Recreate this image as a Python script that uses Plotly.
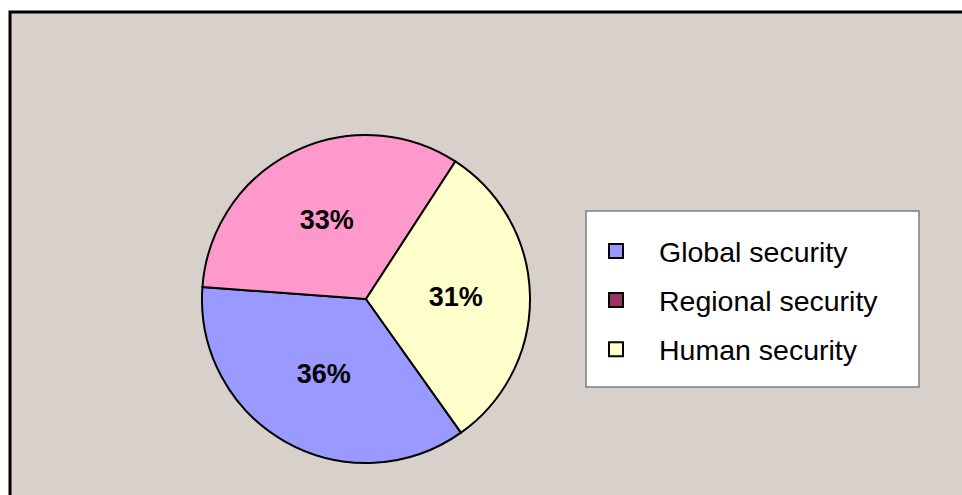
import plotly.graph_objects as go

categories = ["Global security", "Regional security", "Human security"]
values = [36, 33, 31]
slice_colors = ["#9999FF", "#FF99CC", "#FFFFCC"]
legend_colors = ["#9999FF", "#993366", "#FFFFCC"]

W, H = 962, 495
cx, cy, R = 366, 299, 164

fig = go.Figure()

fig.add_trace(go.Pie(
    labels=categories,
    values=values,
    sort=False,
    direction="clockwise",
    rotation=144.6,
    marker=dict(colors=slice_colors, line=dict(color="black", width=2)),
    texttemplate="<b>%{percent:.0%}</b>",
    textposition="inside",
    insidetextorientation="horizontal",
    textfont=dict(family="Liberation Sans, Arial", size=27, color="black"),
    showlegend=False,
    hoverinfo="label+percent",
    domain=dict(x=[(cx - R) / W, (cx + R) / W], y=[(H - cy - R) / H, (H - cy + R) / H]),
))

for name, col in zip(categories, legend_colors):
    fig.add_trace(go.Scatter(
        x=[None], y=[None], mode="markers", name=name, legendgroup=name,
        marker=dict(symbol="square", size=14, color=col, line=dict(color="black", width=2)),
    ))

fig.update_layout(
    width=W, height=H,
    margin=dict(l=0, r=0, t=0, b=0),
    paper_bgcolor="white",
    plot_bgcolor="rgba(0,0,0,0)",
    xaxis=dict(visible=False),
    yaxis=dict(visible=False),
    showlegend=True,
    legend=dict(
        x=573 / W, y=1 - 226 / H, xanchor="left", yanchor="top",
        bgcolor="rgba(0,0,0,0)", borderwidth=0,
        font=dict(family="Liberation Sans, Arial", size=28.5, color="black"),
        itemwidth=76, tracegroupgap=9, itemclick=False,
    ),
    shapes=[
        dict(type="rect", xref="paper", yref="paper", layer="below",
             x0=10 / W, x1=1.02, y0=-0.02, y1=1 - 12 / H,
             fillcolor="#D8D0CA", line=dict(color="black", width=3)),
        dict(type="rect", xref="paper", yref="paper", layer="below",
             x0=586 / W, x1=919 / W, y0=1 - 387 / H, y1=1 - 211 / H,
             fillcolor="white", line=dict(color="#7F7F7F", width=1.5)),
    ],
)

fig.write_html(
    "out.html",
    config={"displayModeBar": False},
    post_script=(
        "document.body.style.margin='0px';"
        "document.body.style.overflow='hidden';"
        "document.documentElement.style.overflow='hidden';"
    ),
)
